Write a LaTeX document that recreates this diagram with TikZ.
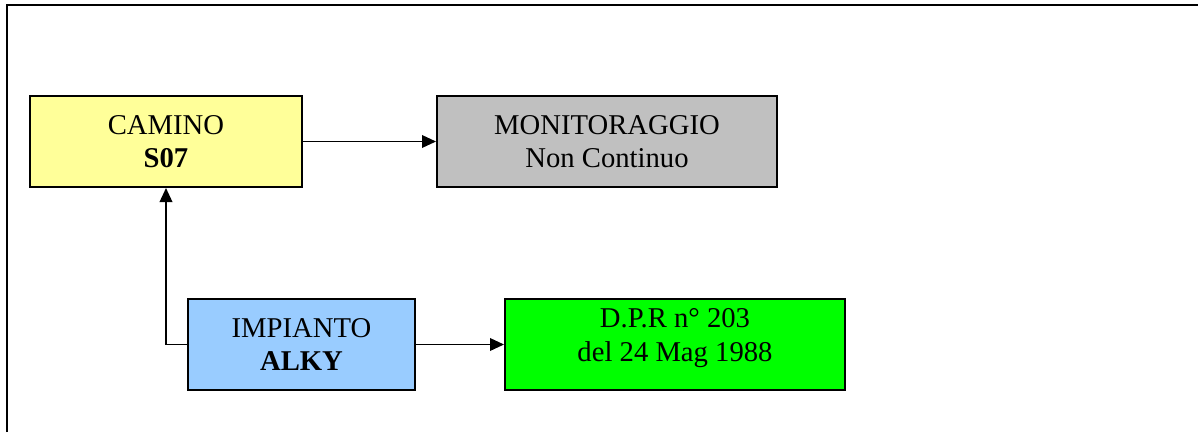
\documentclass[tikz,border=0pt]{standalone}
\usepackage{fontspec}
\setmainfont{Liberation Serif}
\usetikzlibrary{arrows.meta}
\definecolor{caminoyellow}{HTML}{FFFF99}
\definecolor{monitorgray}{HTML}{C0C0C0}
\definecolor{impiantoblue}{HTML}{99CCFF}
\definecolor{dprgreen}{HTML}{00FF00}
\tikzset{
	box/.style={draw, line width=1.5pt, minimum height=68.25pt, inner sep=0pt, align=center, font=\fontsize{21.5}{25}\selectfont},
	arr/.style={line width=1.1pt, -{Triangle[length=10.5pt,width=9.5pt]}},
}

\begin{document}
\begin{tikzpicture}[x=0.75pt, y=-0.75pt]
			%%%%% START %%%%%
			\useasboundingbox (0, 0) rectangle (1198, 432);
			
			\draw[line width=1.5pt] (7, 432) -- (7, 5) -- (1198, 5);
			
			\node[box, fill=caminoyellow, minimum width=204pt] (camino) at (166, 141.5) {CAMINO\\\textbf{S07}};
			\node[box, fill=monitorgray, minimum width=255pt] (monitor) at (607, 141.5) {MONITORAGGIO\\Non Continuo};
			
			\node[box, fill=impiantoblue, minimum width=170.25pt] (impianto) at (301.5, 344.5) {IMPIANTO\\\textbf{ALKY}};
			\node[box, fill=dprgreen, minimum width=255pt] (dpr) at (675, 344.5) {};
			\node[align=center, inner sep=0pt, font=\fontsize{21.5}{25}\selectfont] (dprtext) at (675, 338) {D.P.R n° 203\\del 24 Mag 1988};
			
			\draw[arr] (camino.east) -- (monitor.west);
			\draw[arr] (impianto.west) -| (camino.south);
			\draw[arr] (impianto.east) -- (dpr.west);
			
			%%%%% END %%%%%
\end{tikzpicture}
\end{document}
